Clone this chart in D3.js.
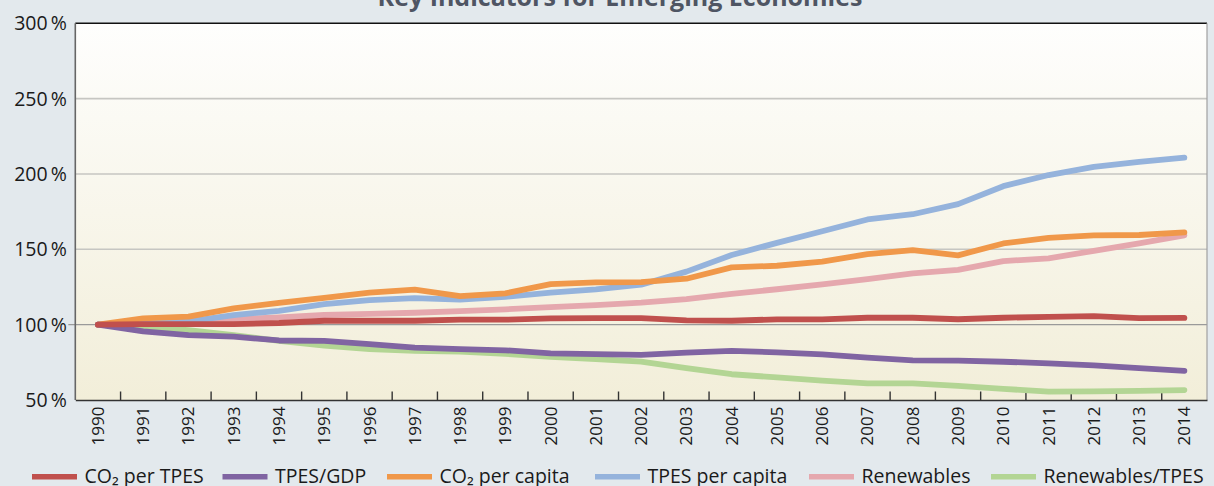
<!DOCTYPE html>
<html>
<head>
<meta charset="utf-8">
<script src="https://cdn.jsdelivr.net/npm/d3@7"></script>
<style>
  html, body { margin: 0; padding: 0; background: #e3e9ed; }
  svg { display: block; font-family: "Open Sans", "Noto Sans", sans-serif; }
</style>
</head>
<body>
<svg id="chart" width="1214" height="486"></svg>
<script>
// Index values, 1990 = 100 %
const years = d3.range(1990, 2015).map(String);

const co2PerTpes = [100, 100.4, 100.4, 100.4, 101.1, 102.6, 102.6, 102.6, 103.3, 103.3, 104.2,
  104.4, 104.4, 102.8, 102.6, 103.5, 103.5, 104.6, 104.6, 103.6, 104.6, 105.2, 105.6, 104.4, 104.5];
const tpesPerGdp = [100, 95.5, 93.1, 92.0, 89.5, 89.3, 87.1, 84.8, 83.8, 83.0, 81.0,
  80.5, 79.9, 81.4, 82.6, 81.6, 80.3, 78.1, 76.3, 76.1, 75.4, 74.3, 73.0, 71.1, 69.3];
const co2PerCapita = [100, 104.2, 105.3, 110.8, 114.5, 117.8, 121.2, 123.3, 119.0, 120.8, 126.9,
  128.0, 128.2, 130.5, 138.0, 139.1, 141.8, 146.8, 149.5, 146.0, 153.9, 157.6, 159.2, 159.5, 161.2];
const tpesPerCapita = [100, 101.5, 102.2, 106.4, 109.2, 113.7, 116.3, 117.6, 116.6, 118.5, 121.2,
  123.4, 126.5, 135.2, 146.2, 154.3, 162.0, 169.8, 173.3, 180.0, 191.9, 199.3, 204.7, 208.0, 210.8];
const renewables = [100, 100.7, 101.5, 103.5, 104.8, 106.4, 107.1, 107.9, 109.0, 110.2, 111.7,
  113.0, 114.6, 117.0, 120.5, 123.5, 126.7, 130.2, 134.0, 136.4, 142.2, 144.0, 149.0, 154.0, 159.3];
const renewablesPerTpes = [100, 98.6, 96.4, 93.1, 89.2, 86.1, 83.8, 82.6, 82.1, 80.6, 78.7,
  77.2, 75.5, 71.1, 67.1, 65.0, 62.8, 61.1, 61.1, 59.4, 57.4, 55.6, 55.7, 56.1, 56.6];

const yTicks = [50, 100, 150, 200, 250, 300];

const seriesNames = ["CO\u2082 per TPES", "TPES/GDP", "CO\u2082 per capita",
  "TPES per capita", "Renewables", "Renewables/TPES"];
const seriesValues = [co2PerTpes, tpesPerGdp, co2PerCapita, tpesPerCapita, renewables, renewablesPerTpes];
const seriesColors = ["#c0504d", "#8064a2", "#f0984a", "#95b3dc", "#e5a8ae", "#b3d594"];

const series = seriesNames.map((name, i) => ({
  name, color: seriesColors[i],
  values: seriesValues[i].map((v, j) => ({ year: years[j], v }))
}));

const svg = d3.select("#chart");
const plot = { left: 75.3, right: 1207, top: 23.3, bottom: 400 };

const x = d3.scaleBand().domain(years).range([plot.left, plot.right]).padding(0);
const y = d3.scaleLinear().domain([50, 300]).range([plot.bottom, plot.top]);
const cx = d => x(d) + x.bandwidth() / 2;

// plot background: white fading to cream
const defs = svg.append("defs");
const grad = defs.append("linearGradient").attr("id", "bg").attr("x1", 0).attr("y1", 0).attr("x2", 0).attr("y2", 1);
grad.append("stop").attr("offset", "0%").attr("stop-color", "#fefefd");
grad.append("stop").attr("offset", "100%").attr("stop-color", "#f2eed9");

svg.append("rect")
  .attr("x", plot.left).attr("y", plot.top)
  .attr("width", plot.right - plot.left).attr("height", plot.bottom - plot.top)
  .attr("fill", "url(#bg)");

// title (partly cut off at the top edge)
svg.append("text")
  .attr("x", 620).attr("y", 5.5)
  .attr("text-anchor", "middle")
  .attr("font-size", 25).attr("font-weight", "bold")
  .attr("fill", "#4f5563")
  .text("Key Indicators for Emerging Economies");

// horizontal grid lines
svg.append("g").selectAll("line")
  .data(yTicks.filter(t => t > 50 && t < 300 && t !== 100))
  .join("line")
  .attr("x1", plot.left).attr("x2", plot.right)
  .attr("y1", d => y(d)).attr("y2", d => y(d))
  .attr("stroke", "#c6c6c2").attr("stroke-width", 1.6);

// 100 % reference line
svg.append("line")
  .attr("x1", plot.left - 7).attr("x2", plot.right)
  .attr("y1", y(100)).attr("y2", y(100))
  .attr("stroke", "#9a9a9a").attr("stroke-width", 1.2);

// frame
svg.append("line").attr("x1", plot.left).attr("x2", plot.right)
  .attr("y1", plot.top).attr("y2", plot.top).attr("stroke", "#111").attr("stroke-width", 1.5);
svg.append("line").attr("x1", plot.right).attr("x2", plot.right)
  .attr("y1", plot.top).attr("y2", plot.bottom).attr("stroke", "#a0a0a0").attr("stroke-width", 1.2);
svg.append("line").attr("x1", plot.left).attr("x2", plot.left)
  .attr("y1", plot.top).attr("y2", plot.bottom).attr("stroke", "#666").attr("stroke-width", 1.6);

// y axis labels
svg.append("g").selectAll("text")
  .data(yTicks)
  .join("text")
  .attr("x", 67).attr("y", d => y(d) + 7)
  .attr("text-anchor", "end")
  .attr("font-size", 19.5).attr("fill", "#1a1a1a")
  .text(d => d + "\u2009%");

// x axis: line, ticks between years, rotated year labels
const xAxis = svg.append("g").attr("transform", `translate(0,${plot.bottom})`)
  .call(d3.axisBottom(x).tickSize(0).tickPadding(0));
xAxis.select(".domain").attr("stroke", "#333").attr("stroke-width", 1.6);
xAxis.selectAll(".tick text")
  .attr("font-family", "\"Open Sans\", sans-serif")
  .attr("font-size", 17).attr("fill", "#1a1a1a")
  .attr("text-anchor", "end")
  .attr("transform", "translate(6,6.5) rotate(-90)")
  .attr("y", 0).attr("dy", 0);

svg.append("g").selectAll("line")
  .data(years.slice(1))
  .join("line")
  .attr("x1", d => x(d)).attr("x2", d => x(d))
  .attr("y1", plot.bottom).attr("y2", plot.bottom - 8.5)
  .attr("stroke", "#333").attr("stroke-width", 1.4);

// series lines, first legend entry drawn on top
const line = d3.line().x(d => cx(d.year)).y(d => y(d.v));
svg.append("g").selectAll("path")
  .data(series.slice().reverse())
  .join("path")
  .attr("d", d => line(d.values))
  .attr("fill", "none")
  .attr("stroke", d => d.color)
  .attr("stroke-width", 5.8)
  .attr("stroke-linejoin", "round")
  .attr("stroke-linecap", "round");

// legend
const legendX = [32, 222.5, 387, 595, 809, 991];
const legend = svg.append("g").selectAll("g")
  .data(series)
  .join("g")
  .attr("transform", (d, i) => `translate(${legendX[i]},476.7)`);
legend.append("line")
  .attr("x1", 0).attr("x2", 45)
  .attr("stroke", d => d.color).attr("stroke-width", 5.5);
legend.append("text")
  .attr("x", 52.5).attr("y", 6.5)
  .attr("font-size", 19.5).attr("fill", "#1a1a1a")
  .text(d => d.name);
</script>
</body>
</html>
